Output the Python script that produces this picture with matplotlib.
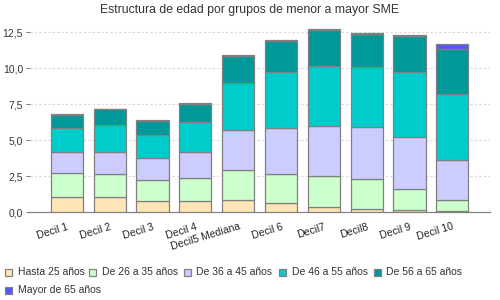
import matplotlib
matplotlib.use("Agg")
import matplotlib.pyplot as plt
from matplotlib.patches import Rectangle
import numpy as np

plt.rcParams['font.family'] = ['Liberation Sans', 'DejaVu Sans']

title = "Estructura de edad por grupos de menor a mayor SME"
categories = ["Decil 1", "Decil 2", "Decil 3", "Decil 4", "Decil5 Mediana",
              "Decil 6", "Decil7", "Decil8", "Decil 9", "Decil 10"]
series_names = ["Hasta 25 años", "De 26 a 35 años", "De 36 a 45 años",
                "De 46 a 55 años", "De 56 a 65 años", "Mayor de 65 años"]
hasta25 = [1.06, 1.02, 0.74, 0.74, 0.81, 0.60, 0.37, 0.23, 0.12, 0.05]
de26_35 = [1.62, 1.59, 1.45, 1.59, 2.08, 2.01, 2.10, 2.03, 1.45, 0.76]
de36_45 = [1.50, 1.57, 1.53, 1.85, 2.84, 3.19, 3.47, 3.61, 3.67, 2.82]
de46_55 = [1.62, 1.83, 1.66, 2.10, 3.26, 3.95, 4.23, 4.20, 4.51, 4.60]
de56_65 = [0.97, 1.11, 0.95, 1.25, 1.87, 2.15, 2.49, 2.31, 2.47, 3.11]
mayor65 = [0.06, 0.06, 0.06, 0.06, 0.06, 0.06, 0.06, 0.06, 0.06, 0.30]
y_ticks = [0.0, 2.5, 5.0, 7.5, 10.0, 12.5]
y_ticklabels = ["0,0", "2,5", "5,0", "7,5", "10,0", "12,5"]

colors = ["#FFE4B5", "#CCFFCC", "#CCCCFF", "#00CCCC", "#009999", "#5555FF"]
edge = "#808080"
text_col = "#333333"

W, H = 500, 300
fig = plt.figure(figsize=(5, 3), dpi=100)
ax = fig.add_axes([30 / W, 1 - 212 / H, (490 - 30) / W, (212 - 27) / H])

series = [hasta25, de26_35, de36_45, de46_55, de56_65, mayor65]
x = np.arange(len(categories))
bottom = np.zeros(len(categories))
for vals, c, name in zip(series, colors, series_names):
    v = np.array(vals)
    ax.bar(x, v, 0.75, bottom=bottom, color=c, edgecolor=edge, linewidth=0.9,
           label=name, zorder=3)
    bottom += v

ax.set_xlim(-0.86, 9.88)
ax.set_ylim(0, 12.85)
ax.set_yticks(y_ticks)
ax.set_yticklabels(y_ticklabels, fontsize=7.5, color=text_col)
ax.set_xticks(x)
ax.set_xticklabels(categories, rotation=17, ha='right', va='top',
                   rotation_mode='anchor', fontsize=7.5, color='#222222')
ax.tick_params(axis='x', length=0, pad=7)
ax.tick_params(axis='y', length=3, color=edge, pad=2)
for s in ['top', 'right', 'left']:
    ax.spines[s].set_visible(False)
ax.spines['bottom'].set_color(edge)
ax.spines['bottom'].set_linewidth(0.9)
ax.yaxis.grid(True, linestyle=(0, (2, 2)), color='#d8d8d8', linewidth=0.8, zorder=0)
ax.set_axisbelow(True)

fig.text(249 / W, 1 - 10 / H, title, ha='center', va='center', fontsize=8.8,
         color=text_col)

# legend, flowing layout
leg_pos = [(5, 272), (89, 272), (184, 272), (279, 272), (374, 272), (5, 290)]
for (px, py), c, name in zip(leg_pos, colors, series_names):
    fig.add_artist(Rectangle((px / W, 1 - (py + 3.5) / H), 7 / W, 7 / H,
                             transform=fig.transFigure, facecolor=c,
                             edgecolor=edge, linewidth=0.9))
    fig.text((px + 12.5) / W, 1 - py / H, name, ha='left', va='center',
             fontsize=7.5, color=text_col)

fig.savefig("out.png", dpi=100)
